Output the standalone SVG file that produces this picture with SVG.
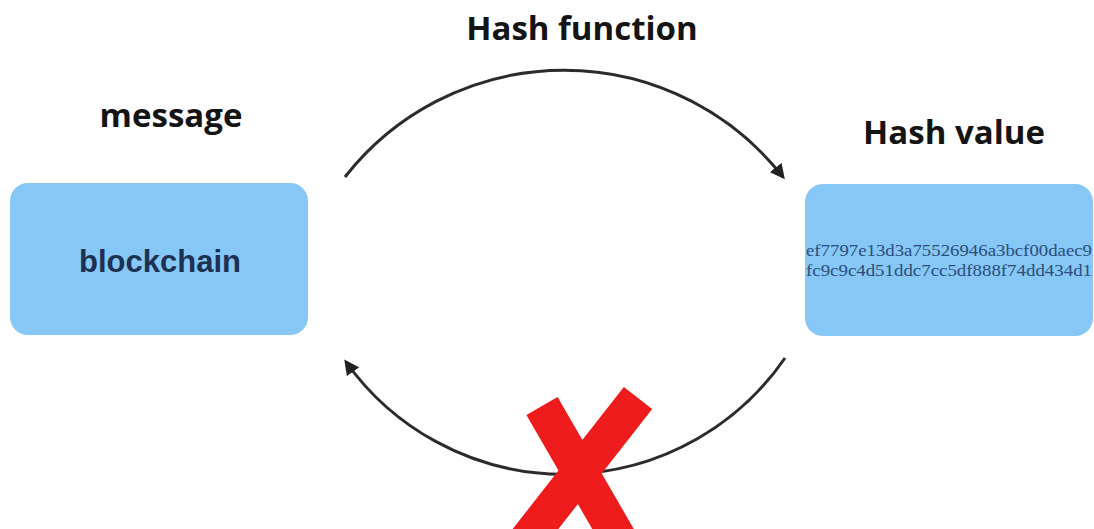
<svg xmlns="http://www.w3.org/2000/svg" width="1094" height="529" viewBox="0 0 1094 529">
<defs>
<marker id="ah" viewBox="0 0 10 10" refX="8" refY="5" markerWidth="5" markerHeight="5" orient="auto" markerUnits="strokeWidth">
<path d="M0,0 L10,5 L0,10 z" fill="#222"/>
</marker>
<style>
.box{fill:#86c7f5;}
.lbl{font-family:"Open Sans","Liberation Sans",sans-serif;font-weight:700;font-size:33px;fill:#141414;text-anchor:middle;}
.arc{fill:none;stroke:#2b2b2b;stroke-width:3;marker-end:url(#ah);}
.hash{font-family:"Liberation Serif","Times New Roman",serif;font-size:16px;fill:#2d4d7a;}
.x{stroke:#ee1c1c;stroke-width:36;stroke-linecap:butt;}
</style>
</defs>
<rect width="1094" height="529" fill="#ffffff"/>
<text class="lbl" x="582" y="40">Hash function</text>
<text class="lbl" x="171" y="127">message</text>
<text class="lbl" x="954" y="144">Hash value</text>
<g id="message">
<rect class="box" x="10" y="183" width="298" height="152" rx="18"/>
<text x="160" y="272" text-anchor="middle" font-family="Liberation Sans, Arial, sans-serif" font-weight="700" font-size="31" fill="#1d3253">blockchain</text>
</g>
<g id="hashvalue">
<rect class="box" x="805" y="184" width="288" height="152" rx="18"/>
<text class="hash" x="806" y="256" textLength="286" lengthAdjust="spacingAndGlyphs">ef7797e13d3a75526946a3bcf00daec9</text>
<text class="hash" x="806" y="276" textLength="286" lengthAdjust="spacingAndGlyphs">fc9c9c4d51ddc7cc5df888f74dd434d1</text>
</g>
<g id="connectors">
<path class="arc" d="M345,177 A278,278 0 0 1 783,177"/>
<path class="arc" d="M785,358 A268,268 0 0 1 346,362"/>
</g>
<g id="cross">
<line class="x" x1="542" y1="406" x2="624" y2="548"/>
<line class="x" x1="638" y1="398" x2="523" y2="545"/>
</g>
</svg>
